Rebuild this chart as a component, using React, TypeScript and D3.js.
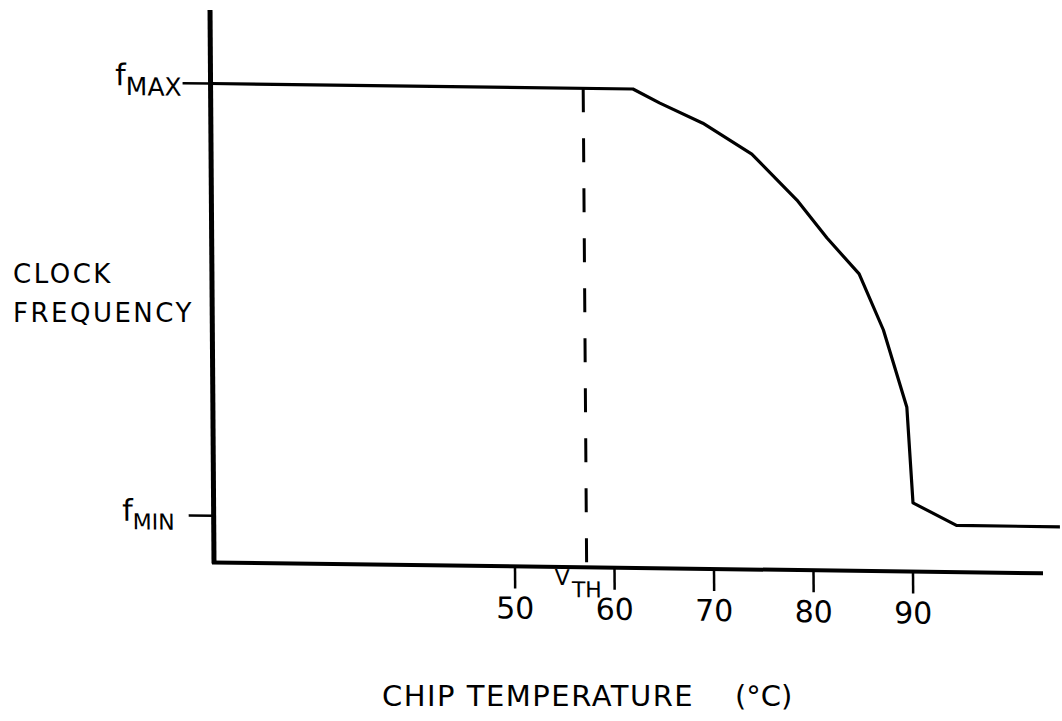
import React, { useEffect, useRef } from "react";
import * as d3 from "d3";

// chip temperature (°C) and clock frequency (0 = fMIN, 100 = fMAX)
const temps = [19.75, 62.2, 64.9, 69.2, 74.1, 78.6, 81.6, 84.8, 87.2, 89.5, 90.05, 94.4, 104.8];
const freqs = [100, 100, 96.8, 92.3, 85.3, 74.8, 66.1, 57.9, 45.0, 27.2, 5.1, 0, 0];

const xTicks = [50, 60, 70, 80, 90];
const levelValues = [100, 0];
const levelSubs = ["MAX", "MIN"];
const vth = 57.2;

const FONT = "'DejaVu Sans', sans-serif";

const App = () => {
  const svgRef = useRef<SVGSVGElement>(null);

  useEffect(() => {
    const root = d3.select(svgRef.current);
    root.selectAll("*").remove();

    root.append("rect").attr("width", 1062).attr("height", 721).attr("fill", "#fff");

    // the hand drawn axes are a little skewed, so the plot lives in a sheared frame
    const g = root.append("g").attr("transform", "matrix(1, 0.013, 0.0072, 1, 214, 562.5)");

    const x = d3.scaleLinear().domain([50, 90]).range([301, 699]);
    const y = d3.scaleLinear().domain([0, 100]).range([-46.7, -479]);

    // axes
    g.append("line")
      .attr("x1", 0).attr("y1", 1)
      .attr("x2", 0).attr("y2", -552.5)
      .attr("stroke", "#000").attr("stroke-width", 5);
    g.append("line")
      .attr("x1", -2).attr("y1", 0)
      .attr("x2", 829).attr("y2", 0)
      .attr("stroke", "#000").attr("stroke-width", 4);

    // x ticks + labels
    g.selectAll(".xt")
      .data(xTicks)
      .join("line")
      .attr("x1", (d) => x(d)).attr("x2", (d) => x(d))
      .attr("y1", 1).attr("y2", 22)
      .attr("stroke", "#000").attr("stroke-width", 2.5);
    g.selectAll(".xl")
      .data(xTicks)
      .join("text")
      .attr("x", (d) => x(d))
      .attr("y", 52)
      .attr("text-anchor", "middle")
      .attr("font-family", FONT)
      .attr("font-size", 30)
      .text((d) => d);

    // f levels on the y axis
    const levelTick = [28, 25];
    const labelEnd = [-29, -39];
    const subSize = [25, 22];
    const fBase = [3, 6];
    const subBase = [12.7, 14.4];
    levelValues.forEach((v, i) => {
      g.append("line")
        .attr("x1", -levelTick[i]).attr("x2", 0)
        .attr("y1", y(v)).attr("y2", y(v))
        .attr("stroke", "#000").attr("stroke-width", 2.5);
      const t = g.append("text")
        .attr("x", labelEnd[i])
        .attr("y", y(v) + fBase[i])
        .attr("text-anchor", "end")
        .attr("font-family", FONT)
        .attr("font-size", 30);
      t.append("tspan").text("f");
      t.append("tspan")
        .attr("dy", subBase[i] - fBase[i])
        .attr("font-size", subSize[i])
        .text(levelSubs[i]);
    });

    // threshold
    g.append("line")
      .attr("x1", x(vth)).attr("x2", x(vth))
      .attr("y1", y(100)).attr("y2", 0)
      .attr("stroke", "#000").attr("stroke-width", 3)
      .attr("stroke-dasharray", "24 26");
    const vt = g.append("text")
      .attr("x", x(vth) - 32)
      .attr("y", 18)
      .attr("font-family", FONT)
      .attr("font-size", 22);
    vt.append("tspan").text("V");
    vt.append("tspan").attr("dy", 12).attr("dx", 2).text("TH");

    // frequency curve
    const pts = temps.map((t, i) => [t, freqs[i]] as [number, number]);
    const line = d3.line<[number, number]>()
      .x((d) => x(d[0]))
      .y((d) => y(d[1]));
    g.append("path")
      .attr("d", line(pts))
      .attr("fill", "none")
      .attr("stroke", "#000")
      .attr("stroke-width", 3.2)
      .attr("stroke-linejoin", "round");

    // axis titles
    const yt = root.append("text")
      .attr("font-family", FONT)
      .attr("font-size", 26)
      .attr("letter-spacing", 2.5);
    yt.append("tspan").attr("x", 13).attr("y", 283).text("CLOCK");
    yt.append("tspan").attr("x", 13).attr("y", 322).text("FREQUENCY");

    root.append("text")
      .attr("x", 382).attr("y", 706)
      .attr("font-family", FONT)
      .attr("font-size", 29)
      .attr("letter-spacing", 1.5)
      .text("CHIP TEMPERATURE");
    root.append("text")
      .attr("x", 735).attr("y", 706)
      .attr("font-family", FONT)
      .attr("font-size", 29)
      .text("(°C)");
  }, []);

  return (
    <svg
      ref={svgRef}
      width={1062}
      height={721}
      style={{ position: "absolute", left: 0, top: 0 }}
    />
  );
};

export default App;
